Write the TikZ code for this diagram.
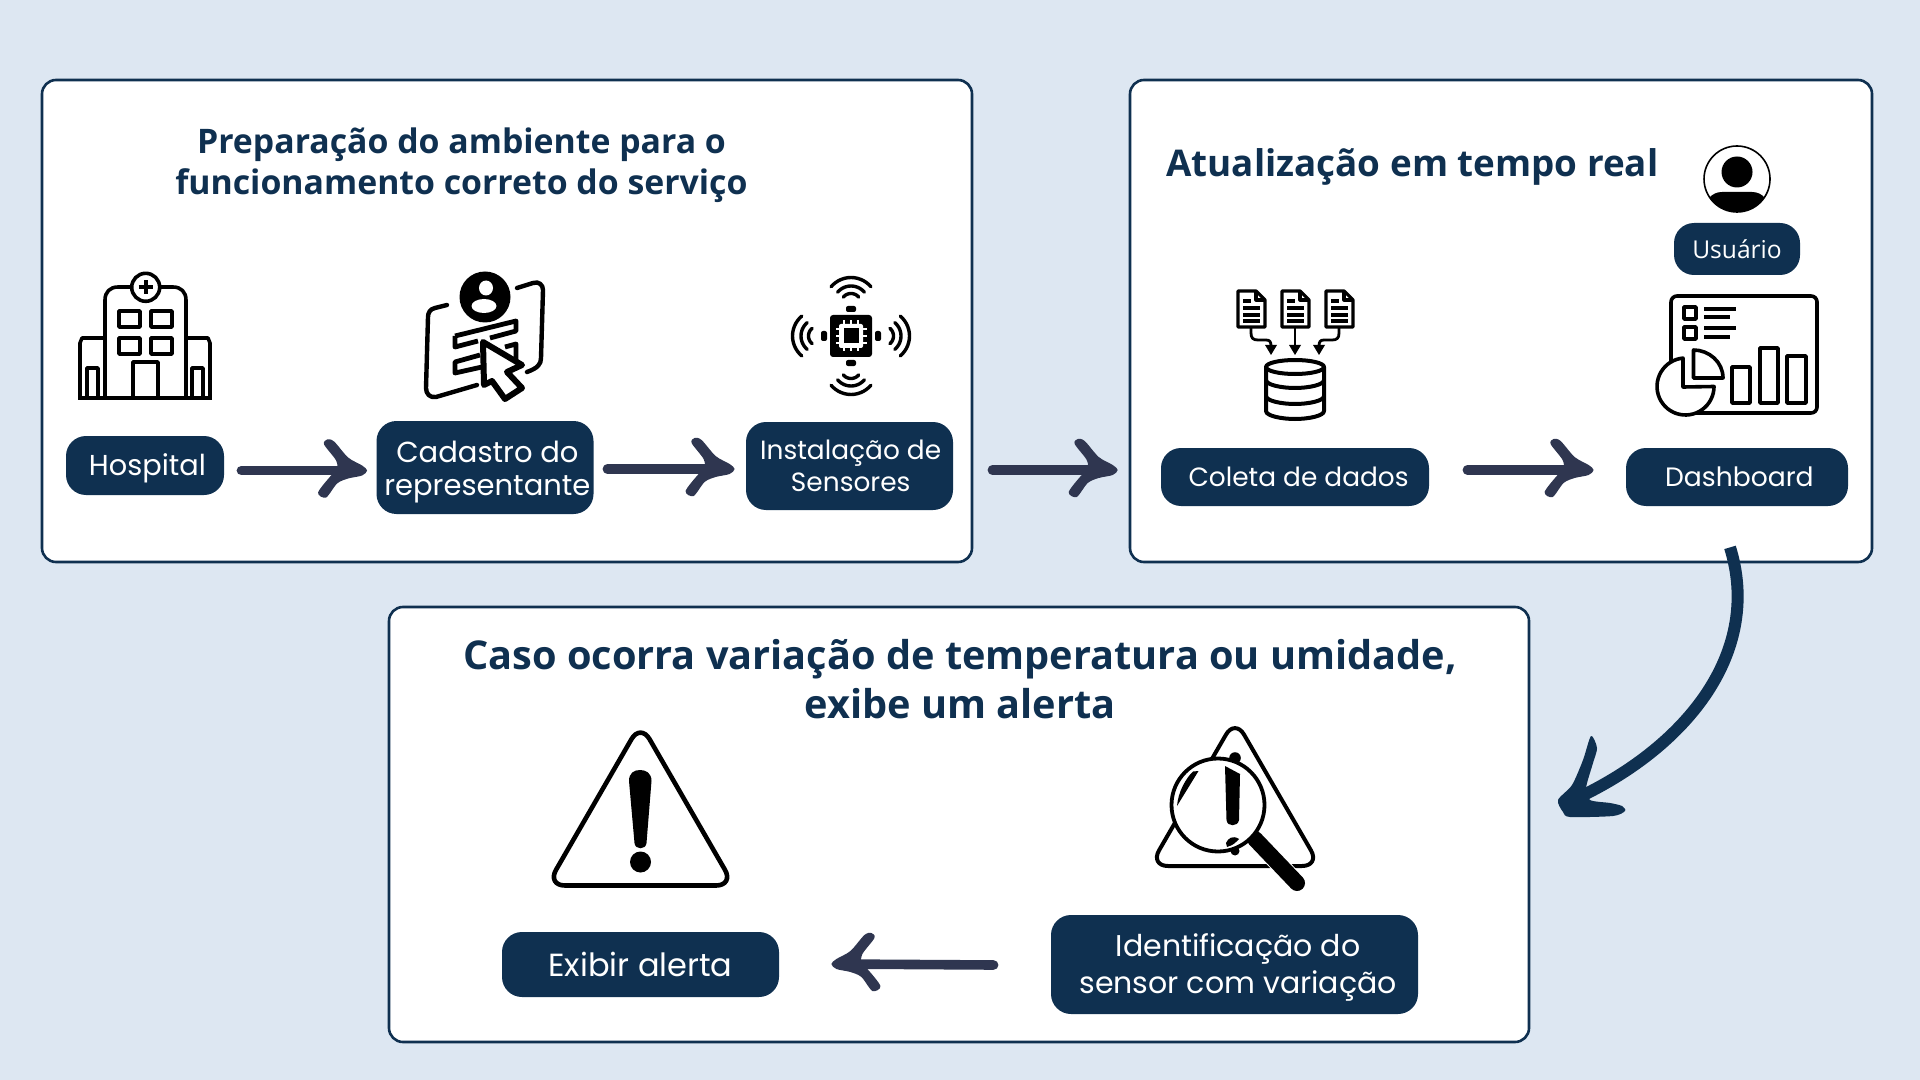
\documentclass[tikz,border=0pt]{standalone}
\usepackage{fontspec}
\setmainfont{Open Sans}
\newfontfamily\pillfont{Poppins}
\usetikzlibrary{calc}
\definecolor{bgblue}{HTML}{DDE7F2}
\definecolor{navy}{HTML}{0F3050}
\definecolor{slatearrow}{HTML}{2F3650}
\tikzset{
  panel/.style={draw=navy,fill=white,line width=1.3pt,rounded corners=7pt},
  pill/.style={fill=navy,text=white,rounded corners=10pt,inner sep=0pt,align=center},
  pilltext/.style 2 args={font=\pillfont\fontsize{#1}{#2}\selectfont},
  heading/.style 2 args={text=navy,inner sep=0pt,align=center,font=\bfseries\fontsize{#1}{#2}\selectfont},
  shaft/.style={draw=slatearrow,line width=4.8pt,line cap=round},
  ink/.style={draw=black,line width=1.8pt,line join=round},
  thin ink/.style={draw=black,line width=1.6pt,line join=round},
}
\newcommand\lbl[2]{\hspace*{#1}#2}
\newcommand\lblv[3]{\hspace*{#1}\raisebox{#2}[0.74em][0.2em]{#3}}
\newcommand\brusharrow[3]{%
  \draw[shaft] (#1) -- ($(#2)!8pt!(#1)$);
  \begin{scope}[shift={(#2)},xscale=#3]
    \fill[slatearrow] plot[smooth cycle,tension=0.5] coordinates {(-38,-31) (-31,-29) (-17,-13) (-3,-5) (2,0) (-3,5) (-17,8) (-28,13) (-39,27) (-47,22) (-34,5) (-28,0) (-29,-10) (-41,-26)};
  \end{scope}}
\begin{document}
\begin{tikzpicture}[x=0.5pt,y=-0.5pt]
\fill[bgblue] (0,0) rectangle (1920,1080);
\useasboundingbox (0,0) rectangle (1920,1080);
% panels
\node[panel,minimum width=465pt,minimum height=241pt,inner sep=0pt] (box1) at (507,321) {};
\node[panel,minimum width=371pt,minimum height=241pt,inner sep=0pt] (box2) at (1501,321) {};
\node[panel,minimum width=570pt,minimum height=217.5pt,inner sep=0pt] (box3) at (959,824.5) {};
% headings
\node[heading={16.9}{20.4}] (t1) at (461.5,165) {Preparação do ambiente para o\\funcionamento correto do serviço};
\node[heading={18.4}{22},anchor=west] (t2) at (1166,167) {Atualização em tempo real};
\node[heading={19.85}{24.5}] (t3) at (960,678.8) {Caso ocorra variação de temperatura ou umidade,\\exibe um alerta};
% pills
\node[pill,pilltext={14.4}{16},minimum width=79pt,minimum height=29.5pt] (hosp) at (145,465.5) {\lblv{2.4pt}{-1.2pt}{Hospital}};
\node[pill,pilltext={14.5}{16.5},minimum width=108.5pt,minimum height=46.5pt] (cad) at (485,467.5) {\lblv{2.4pt}{-1.8pt}{Cadastro do}\\\lblv{2.4pt}{-1.8pt}{representante}};
\node[pill,pilltext={13.2}{16},minimum width=103.5pt,minimum height=44pt] (inst) at (849.5,466) {\lbl{1.2pt}{Instalação de}\\\lbl{1.2pt}{Sensores}};
\node[pill,pilltext={13.2}{16},minimum width=134pt,minimum height=29pt] (col) at (1295,477) {\lbl{3.6pt}{Coleta de dados}};
\node[pill,pilltext={13.3}{16},minimum width=111pt,minimum height=29pt] (dash) at (1737,477) {\lbl{2.4pt}{Dashboard}};
\node[pill,font=\fontsize{12.3}{14}\selectfont,minimum width=63pt,minimum height=26pt] (user) at (1737,249) {Usuário};
\node[pill,pilltext={16}{18},minimum width=138.5pt,minimum height=32.5pt] (exib) at (640.5,964.5) {Exibir alerta};
\node[pill,pilltext={15}{18.5},minimum width=183.5pt,minimum height=49.5pt] (ident) at (1234.5,964.5) {\lblv{3.6pt}{-1.2pt}{Identificação do}\\\lblv{3.6pt}{-1.2pt}{sensor com variação}};
% connectors
\coordinate (a1s) at ($(hosp.east)+(17,5)$);
\coordinate (a1t) at ($(cad.west)+(-11,3)$);
\brusharrow{a1s}{a1t}{1}
\coordinate (a2s) at ($(cad.east)+(13.5,1.5)$);
\coordinate (a2t) at ($(inst.west)+(-13,3)$);
\brusharrow{a2s}{a2t}{1}
\coordinate (a3s) at ($(inst.east)+(39,4)$);
\coordinate (a3t) at ($(box2.west)+(-13,149)$);
\brusharrow{a3s}{a3t}{1}
\coordinate (a4s) at ($(col.east)+(38,-7)$);
\coordinate (a4t) at ($(dash.west)+(-34,-7)$);
\brusharrow{a4s}{a4t}{1}
\coordinate (a5s) at ($(ident.west)+(-57,0.5)$);
\coordinate (a5t) at ($(exib.east)+(54,-0.5)$);
\brusharrow{a5s}{a5t}{-1}
% big curved arrow
\coordinate (bigs) at ($(dash.south)+(-7,41)$);
\coordinate (bigt) at ($(box3.east)+(46,-26)$);
\draw[navy,line width=6pt] (bigs) .. controls (1762,650) and (1690,745) .. (bigt);
\fill[navy] plot[smooth cycle,tension=0.45] coordinates {(1591,736) (1597,748) (1593,763) (1586,788) (1590,800) (1610,803) (1622,806) (1625,811) (1613,816) (1570,817) (1563,812) (1558,800) (1572,785) (1583,760)};
% hospital icon
\begin{scope}[ink]
  \draw (80,398) -- (80,343) -- (82,338) -- (105,338);
  \draw (210,398) -- (210,343) -- (208,338) -- (186,338);
  \draw (105,398) -- (105,300) .. controls (105,292) and (110,287) .. (118,287) -- (173,287) .. controls (181,287) and (186,292) .. (186,300) -- (186,398);
  \draw[fill=white] (145.7,287.3) circle[radius=14];
  \draw (138.7,287.3) -- (152.7,287.3) (145.7,280.3) -- (145.7,294.3);
  \draw (119,311) rectangle (140,327);
  \draw (151,311) rectangle (172,327);
  \draw (119,338) rectangle (140,354);
  \draw (151,338) rectangle (172,354);
  \draw (133,398) -- (133,362) -- (158,362) -- (158,398);
  \draw (87,398) -- (87,368) -- (98,368) -- (98,398);
  \draw (192,398) -- (192,368) -- (203,368) -- (203,398);
  \draw (78,398) -- (212,398);
\end{scope}
% registration icon
\begin{scope}[ink,line width=2.2pt,line cap=round]
  \draw (447,305) -- (435,308) .. controls (430,309) and (428,313) .. (428,317) -- (426,388) .. controls (426,394) and (430,398) .. (436,397) -- (477,385);
  \draw (517,288) -- (533,283) .. controls (539,281) and (543,285) .. (543,290) -- (541,358) .. controls (541,364) and (538,368) .. (527,372);
  \fill[black] (485,297) circle[radius=25.5];
  \fill[white] (486,288) ellipse[x radius=7,y radius=7.5];
  \fill[white] (484,306) ellipse[x radius=12.5,y radius=7];
  \draw[line cap=butt,line width=2.4pt] (455,336) -- (516,321) -- (516,331) -- (490,338);
  \draw[line cap=butt,line width=2.4pt] (455,336) -- (455,347) -- (478,341);
  \draw[line cap=butt,line width=2.4pt] (480,355) -- (455,362) -- (455,373) -- (482,367);
  \draw[line cap=butt,line width=2.4pt] (505,347) -- (516,344) -- (516,360);
  \draw[fill=white,line width=3pt] (483,342) -- (522,365) -- (507,372) -- (522,388) -- (505,399) -- (492,381) -- (484,385) -- cycle;
\end{scope}
% sensor icon
\begin{scope}[shift={(851,336)}]
  \fill[black,rounded corners=1.5pt] (-21,-21) rectangle (21,21);
  \foreach \a in {0,90,180,270}{
    \begin{scope}[rotate=\a]
      \fill[black,rounded corners=1pt] (-5,-30) rectangle (5,-24);
      \draw[white,line width=1pt] (-7,-10) -- (-7,-15.5) (0,-10) -- (0,-15.5) (7,-10) -- (7,-15.5);
      \foreach \R in {10,17.5,26}{
        \draw[black,line width=1.7pt,line cap=round] plot[domain=-50:50,samples=15] ({32.5+\R*cos(\x)},{\R*sin(\x)});
      }
    \end{scope}
  }
  \fill[white,rounded corners=1pt] (-12,-12) rectangle (12,12);
  \fill[black] (-7.5,-7.5) rectangle (7.5,7.5);
\end{scope}
% database icon
\foreach \dx in {0,44,88}{
  \begin{scope}[thin ink,xshift=\dx*0.5pt]
    \draw[fill=white] (1238,291) -- (1256,291) -- (1265,300) -- (1265,327) -- (1238,327) -- cycle;
    \draw (1256,291) -- (1256,300) -- (1265,300);
    \draw (1243,301) -- (1251,301) (1243,308) -- (1260,308) (1243,315) -- (1260,315) (1243,321) -- (1260,321);
  \end{scope}
}
\begin{scope}[thin ink,line width=1.4pt]
  \draw (1251,327) -- (1251,333) .. controls (1251,338) and (1253,340) .. (1258,340) -- (1266,340) .. controls (1270,340) and (1271,342) .. (1271,346);
  \draw (1295,327) -- (1295,347);
  \draw (1339,327) -- (1339,333) .. controls (1339,338) and (1337,340) .. (1332,340) -- (1324,340) .. controls (1320,340) and (1319,342) .. (1319,346);
\end{scope}
\foreach \ax in {1271,1295,1319}{\fill[black] (\ax-6,345) -- (\ax+6,345) -- (\ax,355) -- cycle;}
\begin{scope}[ink,line width=2pt]
  \draw (1295,367) ellipse[x radius=29,y radius=7];
  \draw (1266,367) -- (1266,411) .. controls (1266,416) and (1282,419) .. (1295,419) .. controls (1308,419) and (1324,416) .. (1324,411) -- (1324,367);
  \draw (1266,380) .. controls (1266,385) and (1282,388) .. (1295,388) .. controls (1308,388) and (1324,385) .. (1324,380);
  \draw (1266,396) .. controls (1266,401) and (1282,404) .. (1295,404) .. controls (1308,404) and (1324,401) .. (1324,396);
\end{scope}
% user icon
\draw[black,line width=0.8pt,fill=white] (1737,179) circle[radius=33];
\fill[black] (1737,172) ellipse[x radius=15.5,y radius=15.5];
\begin{scope}
  \clip (1737,179) circle[radius=33];
  \fill[black] (1702,216) .. controls (1704,200) and (1712,192) .. (1722,192) -- (1752,192) .. controls (1762,192) and (1770,200) .. (1772,216) -- cycle;
\end{scope}
% dashboard icon
\begin{scope}[ink]
  \draw[rounded corners=3pt] (1671,296) rectangle (1817,413);
  \draw (1684,307) rectangle (1696,319);
  \draw (1684,327) rectangle (1696,339);
  \draw (1704,309) -- (1736,309) (1704,317) -- (1730,317) (1704,328) -- (1736,328) (1704,337) -- (1730,337);
  \draw (1732,367) rectangle (1750,403);
  \draw (1760,348) rectangle (1778,403);
  \draw (1787,356) rectangle (1806,403);
  \draw[fill=white] (1693.5,378) -- (1693.5,350) .. controls (1709,350) and (1723,362) .. (1723,378) -- cycle;
  \draw[fill=white] plot[domain=95:360,samples=40] ({1685.5+28.5*cos(\x)},{386.5-28.5*sin(\x)}) -- (1683,387) -- cycle;
\end{scope}
% warning icon
\draw[ink,line width=2.3pt,fill=white,rounded corners=9pt] (640.5,723.5) -- (734,885.5) -- (547,885.5) -- cycle;
\fill[black] (629,781) .. controls (629,773) and (634,770) .. (640,770) .. controls (646,770) and (651.5,773) .. (651.5,781) -- (646.5,843) .. controls (646,850) and (635,850) .. (634.5,843) -- cycle;
\fill[black] (640.5,862) ellipse[x radius=10.5,y radius=10.5];
% inspection icon
\draw[ink,line width=2pt,fill=white,rounded corners=9pt] (1235,719) -- (1320,866) -- (1150,866) -- cycle;
\fill[black] (1235,758) circle[radius=5.8];
\fill[black] (1235,851) circle[radius=4.5];
\draw[white,line width=9pt] (1255,839) -- (1297,883);
\draw[black,line width=8pt,line cap=round] (1255,839) -- (1297,883);
\draw[black,line width=1.9pt,fill=white] (1218,805) ellipse[x radius=46.5,y radius=46.5];
\fill[black] (1198.5,771) -- (1177,806) .. controls (1178,792) and (1186,778) .. (1193,771.5) -- cycle;
\fill[black] (1225,766) -- (1240,774) -- (1239,820) .. controls (1238,827) and (1227,827) .. (1226.5,820) -- cycle;
\fill[black] (1226,843) .. controls (1228,838) and (1233,835) .. (1239,839) -- (1236,842) .. controls (1233,845) and (1230,846) .. (1227,847) -- cycle;
\end{tikzpicture}
\end{document}
